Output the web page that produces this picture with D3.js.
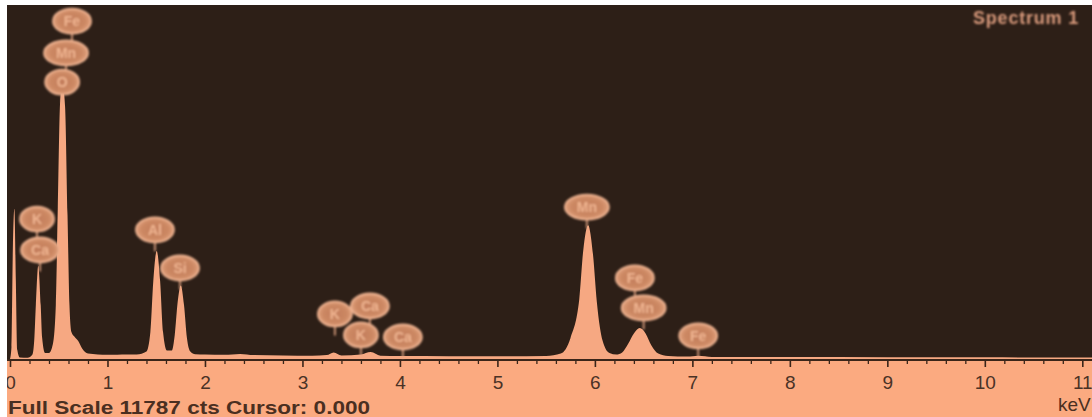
<!DOCTYPE html>
<html>
<head>
<meta charset="utf-8">
<script src="https://cdn.jsdelivr.net/npm/d3@7"></script>
<style>
  html, body { margin: 0; padding: 0; background: #ffffff; }
  svg { display: block; }
</style>
</head>
<body>
<svg id="chart" width="1092" height="417"></svg>
<script>
// EDS spectrum: energy (keV) against counts
const energies = [0, 0.015, 0.03, 0.045, 0.06, 0.075, 0.1, 0.18, 0.23, 0.25, 0.265, 0.29, 0.315, 0.33, 0.36,
  0.4, 0.44, 0.47, 0.49, 0.515, 0.54, 0.565, 0.59, 0.61, 0.63, 0.66, 0.7, 0.74, 0.8, 0.9, 1.0, 1.1, 1.2, 1.3,
  1.4, 1.44, 1.47, 1.505, 1.54, 1.57, 1.61, 1.66, 1.69, 1.72, 1.752, 1.785, 1.815, 1.85, 1.9, 2.0, 2.2, 2.36,
  2.5, 2.8, 3.1, 3.25, 3.32, 3.4, 3.6, 3.7, 3.8, 4.0, 4.5, 5.0, 5.5, 5.65, 5.75, 5.84, 5.88, 5.93, 5.98, 6.02,
  6.08, 6.15, 6.22, 6.28, 6.34, 6.4, 6.46, 6.52, 6.58, 6.65, 6.75, 6.95, 7.06, 7.2, 7.6, 8.0, 9.0, 10.0, 11.12];
const counts = [0, 400, 3800, 5000, 2600, 300, 50, 40, 150, 700, 1800, 3100, 1800, 700, 200,
  200, 500, 1800, 5000, 8600, 9100, 8400, 4800, 1800, 900, 750, 600, 350, 180, 150, 140, 145, 150, 150,
  250, 900, 2600, 3600, 2600, 900, 280, 280, 800, 1900, 2450, 1800, 700, 250, 160, 150, 140, 170,
  130, 120, 110, 130, 220, 120, 150, 230, 110, 100, 95, 90, 100, 180, 700, 2000, 3600, 4450, 3500, 1900,
  600, 200, 150, 220, 500, 850, 1030, 850, 450, 180, 100, 80, 110, 70, 70, 65, 60, 55, 50];

// Element line markers: symbol, line energy (keV), marker height (counts)
const markerElements = ["Fe", "Mn", "O", "K", "Ca", "Al", "Si", "K", "Ca", "K", "Ca", "Mn", "Fe", "Mn", "Fe"];
const markerEnergies = [0.636, 0.575, 0.535, 0.277, 0.308, 1.487, 1.744, 3.333, 3.692, 3.6, 4.03, 5.918, 6.41, 6.5, 7.06];
const markerLevels = [11250, 10190, 9220, 4660, 3630, 4300, 3030, 1500, 1765, 800, 733, 5060, 2700, 1700, 770];

const majorTicks = [0, 1, 2, 3, 4, 5, 6, 7, 8, 9, 10, 11];
const fullScale = 11787;
const spectrumTitle = "Spectrum 1";
const footerText = "Full Scale 11787 cts Cursor: 0.000";
const unitLabel = "keV";

const W = 1092, H = 417;
const plotLeft = 7, plotTop = 5, axisY = 360;

const svg = d3.select("#chart");
const defs = svg.append("defs");

defs.append("clipPath").attr("id", "plotClip")
  .append("rect").attr("x", plotLeft).attr("y", plotTop).attr("width", W - plotLeft).attr("height", axisY - plotTop);
defs.append("clipPath").attr("id", "panelClip")
  .append("rect").attr("x", plotLeft).attr("y", 0).attr("width", W - plotLeft).attr("height", H);

const badgeGrad = defs.append("radialGradient").attr("id", "badgeFill");
badgeGrad.append("stop").attr("offset", "0%").attr("stop-color", "#c27c5b");
badgeGrad.append("stop").attr("offset", "70%").attr("stop-color", "#cc8863");
badgeGrad.append("stop").attr("offset", "100%").attr("stop-color", "#e0a07c");

const soft = defs.append("filter").attr("id", "soft").attr("x", "-20%").attr("y", "-20%").attr("width", "140%").attr("height", "140%");
soft.append("feGaussianBlur").attr("stdDeviation", 0.9);
const softer = defs.append("filter").attr("id", "softer");
softer.append("feGaussianBlur").attr("stdDeviation", 0.5);

const x = d3.scaleLinear().domain([0, 11.12]).range([10, 1094]);
const y = d3.scaleLinear().domain([0, fullScale]).range([axisY - 1, plotTop]);

// Backgrounds
svg.append("rect").attr("x", plotLeft).attr("y", plotTop).attr("width", W - plotLeft).attr("height", axisY - plotTop)
  .attr("fill", "#2d1f17");
svg.append("rect").attr("x", plotLeft).attr("y", axisY).attr("width", W - plotLeft).attr("height", H - axisY)
  .attr("fill", "#fbaa80");

// Spectrum
const data = energies.map((e, i) => ({ e, c: counts[i] }));
const area = d3.area()
  .x(d => x(d.e))
  .y0(y(0))
  .y1(d => y(d.c))
  .curve(d3.curveMonotoneX);

svg.append("g").attr("clip-path", "url(#plotClip)")
  .append("path").datum(data)
  .attr("d", area)
  .attr("fill", "#f6a882")
  .attr("filter", "url(#softer)");

// Axis
const axisG = svg.append("g").attr("clip-path", "url(#panelClip)");
const minorTicks = d3.range(0, 11.2, 0.2).filter(v => Math.abs(v - Math.round(v)) > 1e-6);

axisG.append("g").attr("transform", `translate(0,${axisY})`)
  .call(d3.axisBottom(x).tickValues(minorTicks).tickSize(4).tickFormat(""))
  .call(g => g.select(".domain").remove())
  .call(g => g.selectAll("line").attr("stroke", "#3a2519").attr("stroke-width", 1.3));

const major = axisG.append("g").attr("transform", `translate(0,${axisY})`)
  .call(d3.axisBottom(x).tickValues(majorTicks).tickSize(7).tickFormat(d3.format("d")))
  .call(g => g.select(".domain").remove());
major.selectAll("line").attr("stroke", "#3a2519").attr("stroke-width", 1.6);
major.selectAll("text")
  .attr("y", 29).attr("dy", 0)
  .attr("fill", "#4a3226")
  .attr("font-family", "'Liberation Sans', Arial, sans-serif")
  .attr("font-size", 19);

svg.append("line")
  .attr("x1", plotLeft).attr("x2", W).attr("y1", axisY).attr("y2", axisY)
  .attr("stroke", "#3a2519").attr("stroke-width", 2);

// Element markers
const markers = svg.append("g").attr("filter", "url(#soft)");
markerElements.forEach((el, i) => {
  const cx = x(markerEnergies[i]);
  const cy = y(markerLevels[i]);
  const rx = el.length === 1 ? 17 : (el === "Mn" ? 22 : 19);
  const ry = 12.5;
  const g = markers.append("g");
  g.append("line")
    .attr("x1", cx).attr("x2", cx).attr("y1", cy + ry).attr("y2", cy + ry + 9)
    .attr("stroke", "#e8a886").attr("stroke-width", 1.6);
  g.append("ellipse")
    .attr("cx", cx).attr("cy", cy).attr("rx", rx).attr("ry", ry)
    .attr("fill", "url(#badgeFill)")
    .attr("stroke", "#eeb290").attr("stroke-width", 1.8);
  g.append("text")
    .attr("x", cx).attr("y", cy + 5)
    .attr("text-anchor", "middle")
    .attr("fill", "#f0b591")
    .attr("font-family", "'Liberation Sans', Arial, sans-serif")
    .attr("font-weight", "bold")
    .attr("font-size", 14)
    .text(el);
});

// Title and footer text
svg.append("text")
  .attr("x", 973).attr("y", 24)
  .attr("fill", "#d99a7c")
  .attr("font-family", "'Liberation Sans', Arial, sans-serif")
  .attr("font-weight", "bold")
  .attr("font-size", 18)
  .attr("letter-spacing", 0.8)
  .attr("filter", "url(#soft)")
  .text(spectrumTitle);

svg.append("text")
  .attr("x", 8).attr("y", 414)
  .attr("fill", "#4a2f21")
  .attr("font-family", "'Liberation Sans', Arial, sans-serif")
  .attr("font-weight", "bold")
  .attr("font-size", 18)
  .attr("textLength", 362)
  .attr("lengthAdjust", "spacingAndGlyphs")
  .text(footerText);

svg.append("text")
  .attr("x", 1058).attr("y", 411)
  .attr("fill", "#4a2f21")
  .attr("font-family", "'Liberation Sans', Arial, sans-serif")
  .attr("font-size", 19)
  .text(unitLabel);
</script>
</body>
</html>
